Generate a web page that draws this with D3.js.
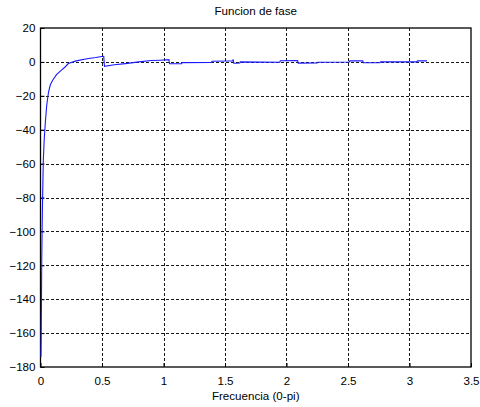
<!DOCTYPE html>
<html>
<head>
<meta charset="utf-8">
<script src="https://cdn.jsdelivr.net/npm/d3@7"></script>
<style>
  html, body { margin: 0; padding: 0; background: #fff; }
  svg { display: block; }
  text { font-family: "Liberation Sans", Arial, sans-serif; fill: #000; }
</style>
</head>
<body>
<svg id="chart" width="480" height="407"></svg>
<script>
// Phase response sampled over 0..pi
const freq = [0.004, 0.006, 0.008, 0.010, 0.013, 0.017, 0.023, 0.030, 0.039, 0.050,
  0.056, 0.065, 0.080, 0.099, 0.13, 0.17, 0.20, 0.226, 0.29, 0.39, 0.45, 0.497, 0.514,
  0.520, 0.60, 0.69, 0.80, 0.90, 0.97, 1.044, 1.049, 1.147, 1.150, 1.39, 1.395, 1.54,
  1.562, 1.566, 1.572, 1.59, 1.62, 1.625, 1.945, 1.950, 2.09, 2.095, 2.25, 2.255,
  2.51, 2.515, 2.62, 2.625, 2.76, 2.765, 3.06, 3.065, 3.1416];
const phase = [-174, -160, -140, -118, -100, -80, -58, -46, -36, -26,
  -22.6, -18, -13.5, -10.8, -7.5, -4.9, -3, -1, 0.6, 2, 2.6, 3.2, 3.3,
  -2.6, -1.7, -1, 0, 0.8, 1.0, 1.3, -1.1, -1, -0.4, -0.3, 0.4, 0.5,
  0.5, 1.5, -0.8, -0.8, -0.7, 0, -0.2, 0.7, 0.8, -0.7, -0.6, -0.2,
  -0.1, 0.6, 0.6, -0.5, -0.4, 0, 0, 0.6, 0.6];

const xTicks = [0, 0.5, 1, 1.5, 2, 2.5, 3, 3.5];
const yTicks = [-180, -160, -140, -120, -100, -80, -60, -40, -20, 0, 20];

const titleText = "Funcion de fase";
const xLabelText = "Frecuencia (0-pi)";

const svg = d3.select("#chart");
const m = { left: 40.5, right: 471, top: 28, bottom: 367 };

const x = d3.scaleLinear().domain([0, 3.5]).range([m.left, m.right]);
const y = d3.scaleLinear().domain([-180, 20]).range([m.bottom, m.top]);

const fontSize = 11.6;

// Grid lines
const grid = svg.append("g").attr("stroke", "#000").attr("stroke-width", 1)
  .attr("stroke-dasharray", "3,2").attr("shape-rendering", "crispEdges");
xTicks.slice(1, -1).forEach(t => {
  grid.append("line").attr("x1", Math.round(x(t)) + 0.5).attr("x2", Math.round(x(t)) + 0.5)
    .attr("y1", m.top).attr("y2", m.bottom).attr("stroke-opacity", 0.9);
});
yTicks.slice(1, -1).forEach(t => {
  grid.append("line").attr("y1", Math.round(y(t)) + 0.5).attr("y2", Math.round(y(t)) + 0.5)
    .attr("x1", m.left).attr("x2", m.right).attr("stroke-opacity", 0.9);
});

// Axes with inward ticks
const xAxis = d3.axisBottom(x).tickValues(xTicks).tickSize(-4).tickPadding(10)
  .tickFormat(d3.format("~g"));
const yAxis = d3.axisLeft(y).tickValues(yTicks).tickSize(-4).tickPadding(5)
  .tickFormat(d3.format("~g"));

const gx = svg.append("g").attr("transform", `translate(0,${m.bottom})`).call(xAxis);
const gy = svg.append("g").attr("transform", `translate(${m.left},0)`).call(yAxis);
[gx, gy].forEach(g => {
  g.select(".domain").remove();
  g.selectAll("line").attr("stroke", "#000");
  g.selectAll("text").attr("font-size", fontSize)
    .attr("font-family", "Liberation Sans, Arial, sans-serif").attr("fill", "#000");
});

// Frame
svg.append("rect").attr("x", m.left).attr("y", m.top)
  .attr("width", m.right - m.left).attr("height", m.bottom - m.top)
  .attr("fill", "none").attr("stroke", "#000").attr("stroke-width", 1.3);

// Phase curve
const line = d3.line().x((d, i) => x(freq[i])).y((d, i) => y(phase[i]));
svg.append("path").datum(phase).attr("d", line)
  .attr("fill", "none").attr("stroke", "#1a1aff").attr("stroke-width", 1.1);

// Title and axis label
svg.append("text").attr("x", (m.left + m.right) / 2).attr("y", 15)
  .attr("text-anchor", "middle").attr("font-size", fontSize).text(titleText);
svg.append("text").attr("x", (m.left + m.right) / 2).attr("y", 400)
  .attr("text-anchor", "middle").attr("font-size", fontSize).text(xLabelText);
</script>
</body>
</html>
